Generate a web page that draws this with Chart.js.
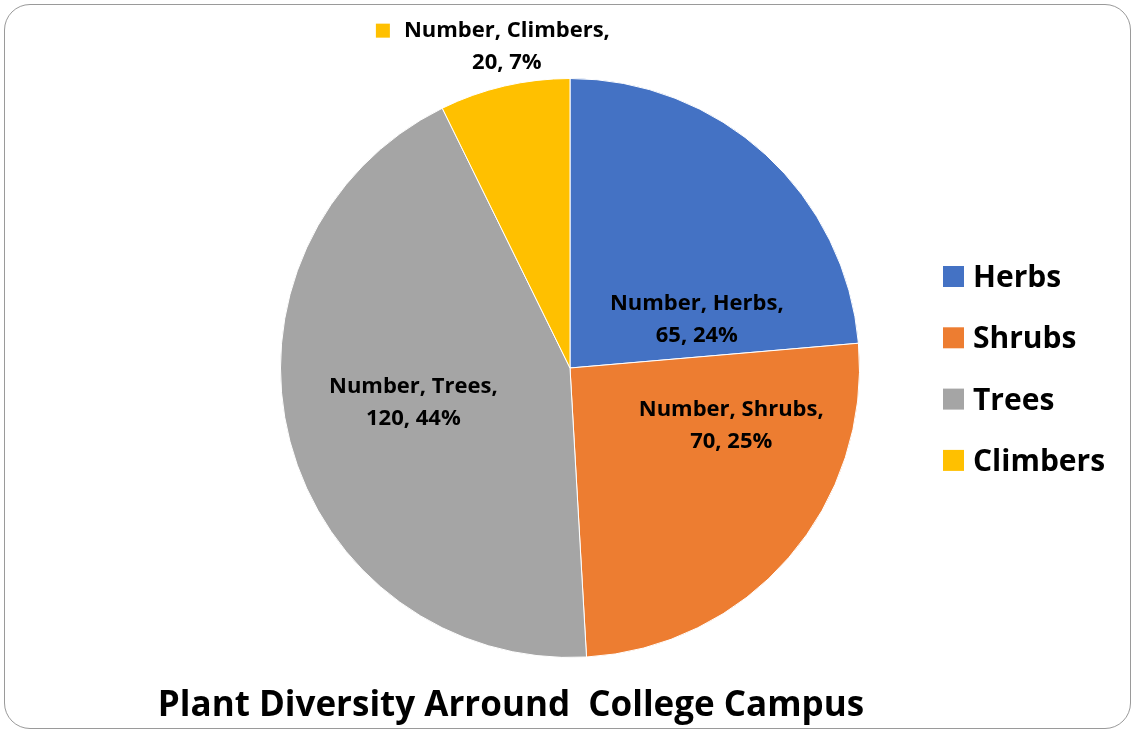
<!DOCTYPE html>
<html>
<head>
<meta charset="utf-8">
<script src="https://cdn.jsdelivr.net/npm/chart.js@4.4.1/dist/chart.umd.min.js"></script>
<style>
  html, body { margin: 0; padding: 0; background: #fff; }
  #wrap { position: relative; width: 1136px; height: 733px; }
  #frame {
    position: absolute; left: 4px; top: 4px; width: 1127px; height: 725px;
    border: 1.5px solid #9a9a9a; border-radius: 26px; box-sizing: border-box;
  }
  canvas { position: absolute; left: 0; top: 0; }
</style>
</head>
<body>
<div id="wrap">
  <div id="frame"></div>
  <canvas id="pie" width="1136" height="733"></canvas>
</div>
<script>
// --- Data ---
const categories = ["Herbs", "Shrubs", "Trees", "Climbers"];
const counts = [65, 70, 120, 20];
const seriesName = "Number";
const chartTitle = "Plant Diversity Arround  College Campus";

const colors = ["#4472C4", "#ED7D31", "#A5A5A5", "#FFC000"];
const FONT = "'Open Sans', Lato, sans-serif";

// label anchors, as fractions of the pie radius from its centre
const labelSpots = [
    { dx: 0.438, dy: -0.165 },
    { dx: 0.557, dy: 0.2 },
    { dx: -0.541, dy: 0.121 },
    { dx: -0.218, dy: -1.11, key: true }
];

// --- Data labels: "Number, Herbs,\n65, 24%" ---
const sliceLabels = {
    id: "sliceLabels",
    afterDatasetsDraw(chart) {
        const ctx = chart.ctx;
        const arcs = chart.getDatasetMeta(0).data;
        const total = counts.reduce((a, b) => a + b, 0);
        ctx.save();
        ctx.font = "bold 22px " + FONT;
        ctx.fillStyle = "#000";
        ctx.textAlign = "center";
        ctx.textBaseline = "middle";
        arcs.forEach((arc, i) => {
            const r = arc.outerRadius;
            const spot = labelSpots[i];
            const x = arc.x + spot.dx * r;
            const y = arc.y + spot.dy * r;
            const pct = Math.round(counts[i] / total * 100);
            const line1 = seriesName + ", " + categories[i] + ",";
            const line2 = counts[i] + ", " + pct + "%";
            ctx.fillText(line1, x, y - 16);
            ctx.fillText(line2, x, y + 16);
            if (spot.key) {
                const w = ctx.measureText(line1).width;
                ctx.fillStyle = colors[i];
                ctx.fillRect(x - w / 2 - 28, y - 23, 14, 14);
                ctx.fillStyle = "#000";
            }
        });
        ctx.restore();
    }
};

// --- Legend on the right and title below ---
const sideLegend = {
    id: "sideLegend",
    afterDraw(chart) {
        const ctx = chart.ctx;
        ctx.save();
        ctx.font = "bold 30px " + FONT;
        ctx.textBaseline = "alphabetic";
        ctx.textAlign = "left";
        categories.forEach((c, i) => {
            const y = 276 + i * 61.3;
            ctx.fillStyle = colors[i];
            ctx.fillRect(943, y - 10, 21, 21);
            ctx.fillStyle = "#000";
            ctx.fillText(c, 973, y + 11);
        });
        ctx.font = "bold 35px " + FONT;
        ctx.textAlign = "center";
        ctx.fillText(chartTitle, 511, 716);
        ctx.restore();
    }
};

new Chart(document.getElementById("pie"), {
    type: "pie",
    data: {
        labels: categories,
        datasets: [{
            label: seriesName,
            data: counts,
            backgroundColor: colors,
            borderColor: "#ffffff",
            borderWidth: 1
        }]
    },
    options: {
        responsive: false,
        animation: false,
        layout: { padding: { left: 280, right: 276, top: 78, bottom: 75 } },
        plugins: {
            legend: { display: false },
            title: { display: false },
            tooltip: { enabled: false }
        }
    },
    plugins: [sliceLabels, sideLegend]
});
</script>
</body>
</html>
